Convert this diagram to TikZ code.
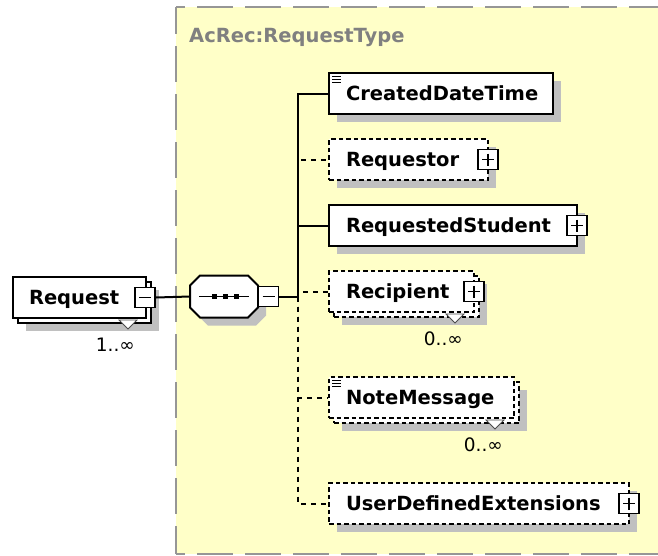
\documentclass[tikz,border=0pt]{standalone}
\usepackage{fontspec}
\setmainfont{DejaVu Sans}
\usetikzlibrary{shadows,calc}
\definecolor{bgyellow}{RGB}{255,255,200}
\definecolor{shadowgray}{RGB}{192,192,192}
\definecolor{bordergray}{RGB}{150,150,150}
\definecolor{titlegray}{RGB}{128,128,128}
\newcommand\elemfont{\fontsize{19.5pt}{22pt}\selectfont\bfseries}
\newcommand\cardfont{\fontsize{18.5pt}{20pt}\selectfont}
\begin{document}
\begin{tikzpicture}[x=1pt,y=-1pt,
  elem/.style={draw, fill=white, line width=2pt, inner xsep=17pt, inner ysep=0pt,
    minimum height=41pt, align=left, font=\elemfont, text height=14.2pt, text depth=0pt,
    anchor=north west},
  optel/.style={dash pattern=on 4.5pt off 3pt},
  dropsh/.style={general shadow={shadow scale=1, shadow xshift=8pt, shadow yshift=-8pt, fill=shadowgray, draw=none}},
  multish/.style={general shadow={shadow scale=1, shadow xshift=13pt, shadow yshift=-13pt, fill=shadowgray, draw=none},
    general shadow={shadow scale=1, shadow xshift=5pt, shadow yshift=-5pt, draw=black, fill=white, line width=2pt}},
  multishd/.style={general shadow={shadow scale=1, shadow xshift=13pt, shadow yshift=-13pt, fill=shadowgray, draw=none},
    general shadow={shadow scale=1, shadow xshift=5pt, shadow yshift=-5pt, draw=black, fill=white, line width=2pt, dash pattern=on 4.5pt off 3pt}},
  pmbox/.style={draw, fill=white, line width=1.5pt, minimum size=20pt, inner sep=0pt},
  minusbox/.style={pmbox, path picture={\draw[line width=1.5pt] ([xshift=4pt]path picture bounding box.west) -- ([xshift=-4pt]path picture bounding box.east);}},
  plusbox/.style={pmbox, path picture={\draw[line width=1.5pt] ([xshift=4pt]path picture bounding box.west) -- ([xshift=-4pt]path picture bounding box.east);
    \draw[line width=1.5pt] ([yshift=-4pt]path picture bounding box.north) -- ([yshift=4pt]path picture bounding box.south);}},
  conn/.style={draw, line width=2pt},
  optconn/.style={draw, line width=2pt, dash pattern=on 5pt off 5pt},
  border/.style={draw=bordergray, line width=2pt, dash pattern=on 36pt off 12pt},
  card/.style={font=\cardfont, inner sep=0pt, anchor=east},
  tri/.style={draw=black!70, fill=white, line width=0.8pt},
  icon/.style={line width=1pt}
]
\useasboundingbox (0,0) rectangle (658,555);
% background of the complex type
\fill[bgyellow] (176,7) rectangle (658,554);
\draw[border, dash phase=9pt] (176,7) -- (176,554);
\draw[border, dash phase=27pt] (176,7) -- (658,7);
\draw[border, dash phase=27pt] (176,554) -- (658,554);
\node[anchor=base west, inner sep=0pt, font=\elemfont, text=titlegray] (title) at (189,42) {AcRec:RequestType};

% Request element
\node[elem, multish, inner xsep=16pt, text width=101pt] (rq) at (12,276) {\mbox{Request}};
\node[minusbox] (rqm) at ([xshift=-2pt]rq.east) {};
\draw[tri] ($(rq.south east)+(-28,1)$) -- ($(rq.south east)+(-10,1)$) -- ($(rq.south east)+(-19,10)$) -- cycle;
\node[card] (rqc) at ($(rq.south east)+(-12,26)$) {1..∞};

% sequence compositor
\fill[shadowgray] (208,283.5) -- (256,283.5) -- (266,293.5) -- (266,315.5) -- (256,325.5) -- (208,325.5) -- (198,315.5) -- (198,293.5) -- cycle;
\draw[line width=2pt, fill=white] (200,275.5) -- (248,275.5) -- (258,285.5) -- (258,307.5) -- (248,317.5) -- (200,317.5) -- (190,307.5) -- (190,285.5) -- cycle;
\node[minimum width=68pt, minimum height=42pt, inner sep=0pt] (seq) at (224,296.5) {};
\draw[line width=1.5pt] (199,296.5) -- (249,296.5);
\fill (211.5,294) rectangle +(5,5);
\fill (222.5,294) rectangle +(5,5);
\fill (233.5,294) rectangle +(5,5);
\node[minusbox] (sqm) at (268.5,296.5) {};
\draw[conn] (rqm.east) -- (seq.west);
\coordinate (j) at (298,296.5);
\draw[conn] (sqm.east) -- (j);

% children
\node[elem, dropsh, text width=190pt] (cdt) at (328,72) {\mbox{CreatedDateTime}};
\draw[icon] ($(cdt.north west)+(4,4)$) -- +(9,0);
\draw[icon] ($(cdt.north west)+(4,7)$) -- +(9,0);
\draw[icon] ($(cdt.north west)+(4,10)$) -- +(9,0);

\node[elem, optel, dropsh, text width=125pt] (rqr) at (328,138) {\mbox{Requestor}};
\node[plusbox] (rqrp) at ([xshift=-1pt]rqr.east) {};

\node[elem, dropsh, text width=214pt] (rs) at (328,204) {\mbox{RequestedStudent}};
\node[plusbox] (rsp) at ([xshift=-1pt]rs.east) {};

\node[elem, optel, multishd, text width=111pt] (rcp) at (328,270) {\mbox{Recipient}};
\node[plusbox] (rcpp) at ([xshift=-1pt]rcp.east) {};
\draw[tri] ($(rcp.south east)+(-29,1)$) -- ($(rcp.south east)+(-11,1)$) -- ($(rcp.south east)+(-20,10)$) -- cycle;
\node[card] (rcpc) at ($(rcp.south east)+(-12,26)$) {0..∞};

\node[elem, optel, multishd, text width=151pt] (nm) at (328,376) {\mbox{NoteMessage}};
\draw[icon] ($(nm.north west)+(4,4)$) -- +(9,0);
\draw[icon] ($(nm.north west)+(4,7)$) -- +(9,0);
\draw[icon] ($(nm.north west)+(4,10)$) -- +(9,0);
\draw[tri] ($(nm.south east)+(-29,1)$) -- ($(nm.south east)+(-11,1)$) -- ($(nm.south east)+(-20,10)$) -- cycle;
\node[card] (nmc) at ($(nm.south east)+(-12,26)$) {0..∞};

\node[elem, optel, dropsh, text width=266pt] (ude) at (328,482) {\mbox{UserDefinedExtensions}};
\node[plusbox] (udep) at ([xshift=-1pt]ude.east) {};

% connectors
\draw[conn] (j) |- (cdt.west);
\draw[conn] (j) |- (rs.west);
\draw[optconn] (j) |- (rqr.west);
\draw[optconn] (j) |- (rcp.west);
\draw[optconn] (j) |- (nm.west);
\draw[optconn] (j) |- (ude.west);
\end{tikzpicture}
\end{document}
